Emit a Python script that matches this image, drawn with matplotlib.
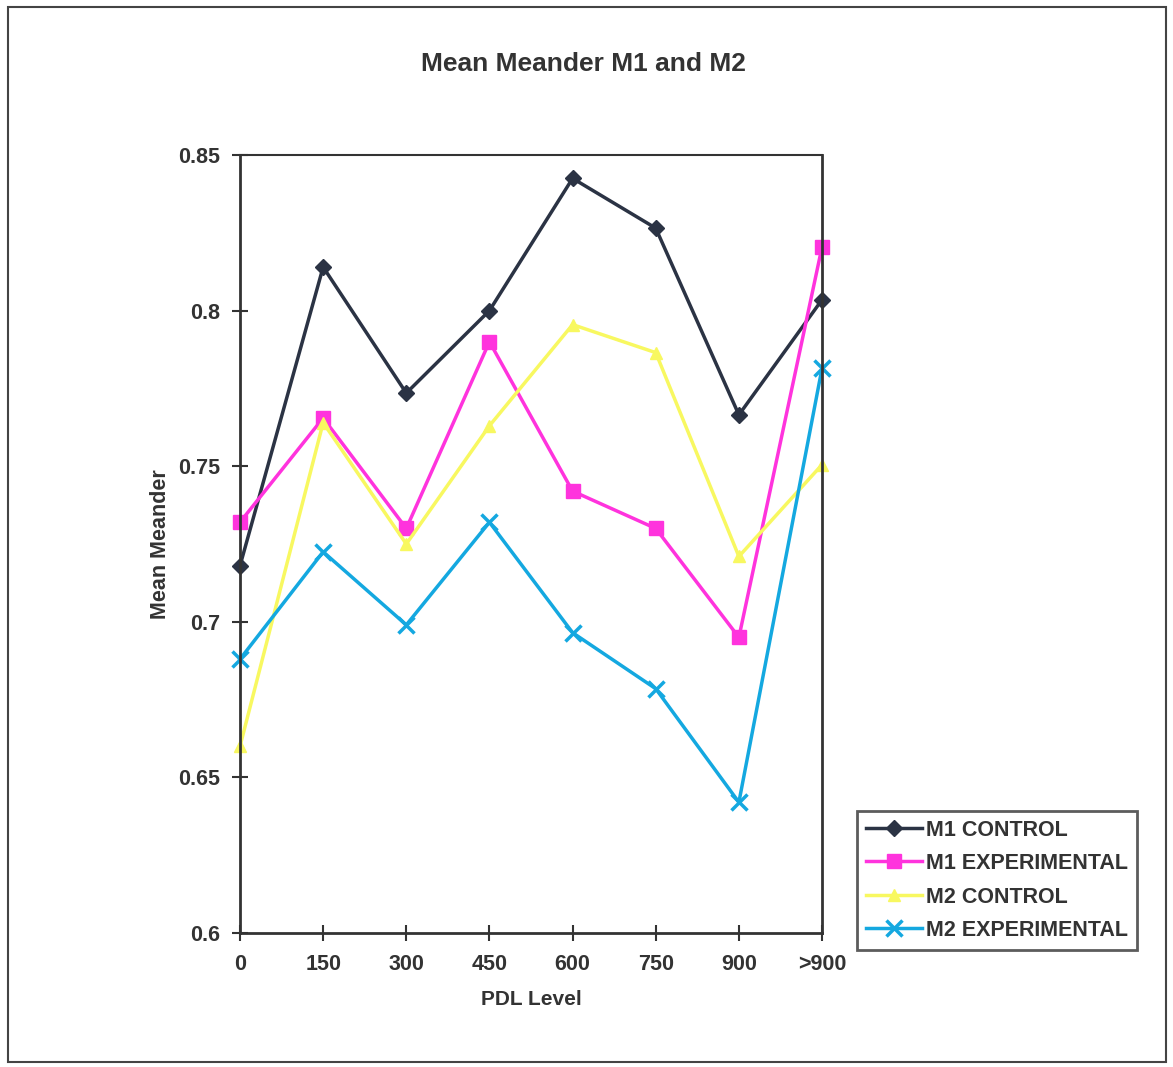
import matplotlib.pyplot as plt
from matplotlib.patches import Rectangle

plt.rcParams['font.family'] = ['Liberation Sans', 'DejaVu Sans']
plt.rcParams['font.weight'] = 'bold'

# PDL levels (categories)
levels = ['0', '150', '300', '450', '600', '750', '900', '>900']

# Mean meander values
m1_control = [0.718, 0.814, 0.7735, 0.800, 0.8425, 0.8265, 0.7665, 0.8035]
m1_experimental = [0.732, 0.7655, 0.730, 0.790, 0.742, 0.730, 0.695, 0.8205]
m2_control = [0.660, 0.764, 0.725, 0.763, 0.7955, 0.7865, 0.721, 0.7505]
m2_experimental = [0.688, 0.7225, 0.699, 0.732, 0.6965, 0.6785, 0.642, 0.7815]

fig = plt.figure(figsize=(11.73, 10.67), dpi=100)
ax = fig.add_axes([0.2046, 0.1256, 0.4962, 0.7291])

x = list(range(len(levels)))
ax.plot(x, m1_control, color='#2b3344', lw=2.5, marker='D', ms=8, label='M1 CONTROL', clip_on=False)
ax.plot(x, m1_experimental, color='#ff33dd', lw=2.5, marker='s', ms=10, label='M1 EXPERIMENTAL', clip_on=False)
ax.plot(x, m2_control, color='#f8f860', lw=2.5, marker='^', ms=9, label='M2 CONTROL', clip_on=False)
ax.plot(x, m2_experimental, color='#14a8e0', lw=2.5, marker='x', ms=12, mew=2.5,
        label='M2 EXPERIMENTAL', clip_on=False)

ax.set_xlim(0, len(levels) - 1)
ax.set_ylim(0.6, 0.85)
ax.set_xticks(x)
ax.set_xticklabels(levels)
ax.set_yticks([0.6, 0.65, 0.7, 0.75, 0.8, 0.85])
ax.set_yticklabels(['0.6', '0.65', '0.7', '0.75', '0.8', '0.85'])
ax.tick_params(direction='inout', length=12, width=1.5, labelsize=15.5, colors='#333333')
ax.tick_params(axis='x', pad=9)
ax.tick_params(axis='y', pad=8)
for s in ax.spines.values():
    s.set_linewidth(2)
    s.set_color('#333333')
ax.spines['top'].set_linewidth(1.5)

ax.set_xlabel('PDL Level', fontsize=15, fontweight='bold', color='#333333', labelpad=11)
ax.set_ylabel('Mean Meander', fontsize=15.5, fontweight='bold', color='#333333', labelpad=5)
fig.text(0.497, 0.94, 'Mean Meander M1 and M2', ha='center', va='center',
         fontsize=19, fontweight='bold', color='#333333')

leg = fig.legend(loc='upper left', bbox_to_anchor=(0.731, 0.24), fontsize=15.5,
                 frameon=True, fancybox=False, borderpad=0.4, labelspacing=0.58,
                 handlelength=2.6, handletextpad=0.2, borderaxespad=0)
leg.get_frame().set_edgecolor('#333333')
leg.get_frame().set_linewidth(2)
for t in leg.get_texts():
    t.set_color('#333333')

# outer frame of the chart area
fig.patches.append(Rectangle((0.007, 0.005), 0.987, 0.988, transform=fig.transFigure,
                             fill=False, edgecolor='#444444', lw=1.5))

fig.savefig('out.png', dpi=100)
